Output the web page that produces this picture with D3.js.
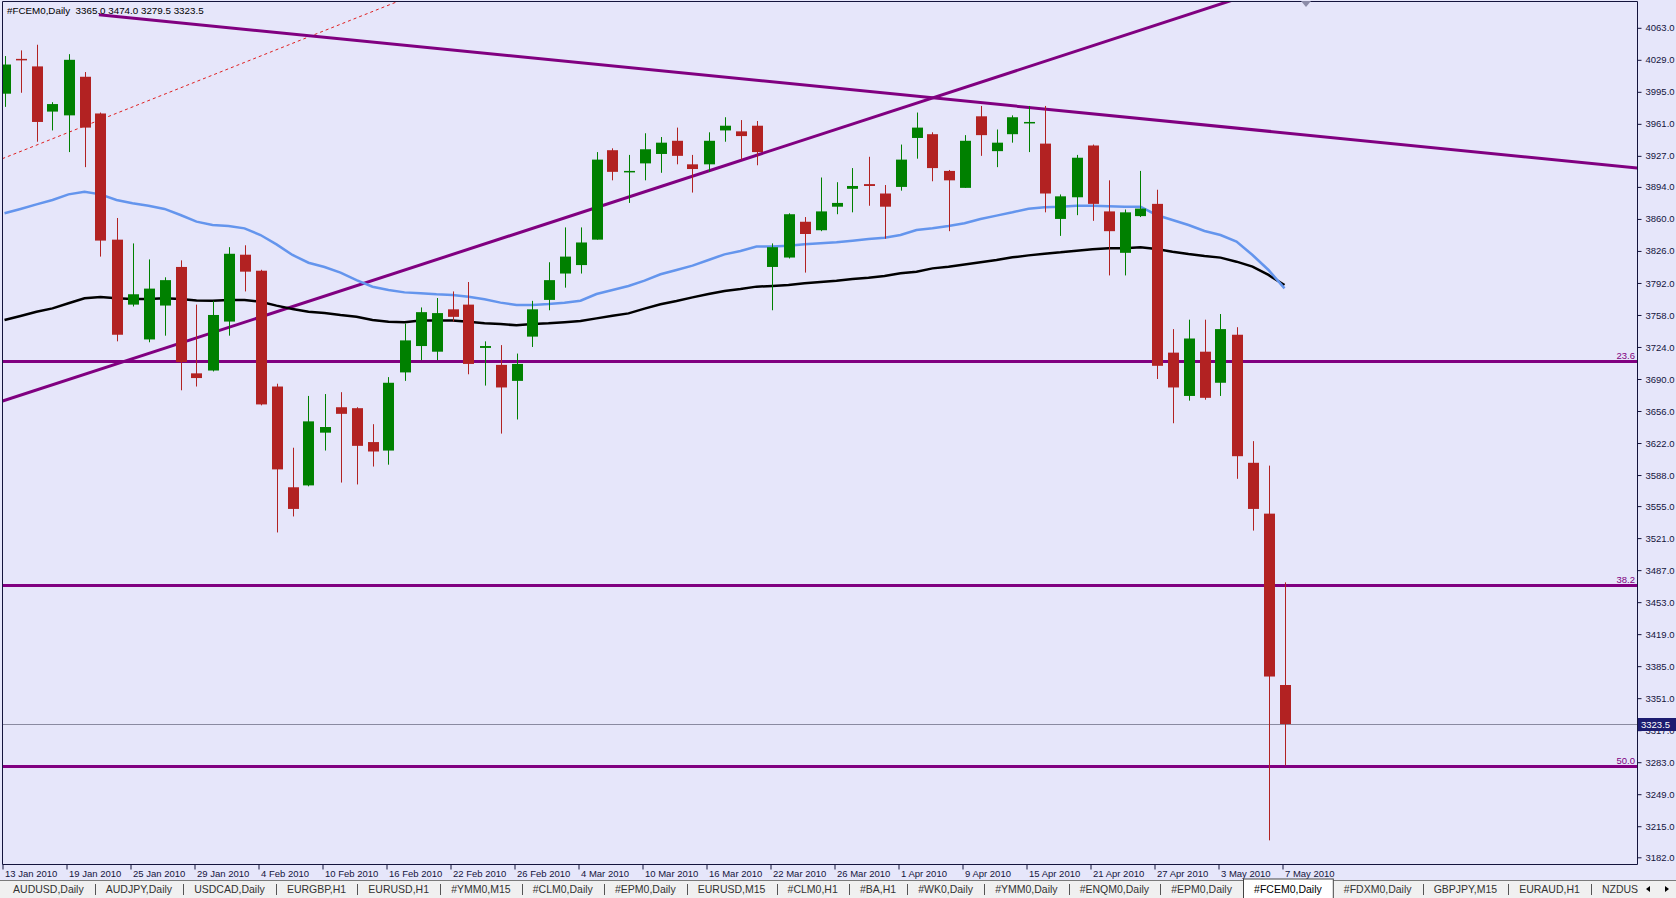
<!DOCTYPE html>
<html><head><meta charset="utf-8">
<script src="https://cdn.jsdelivr.net/npm/d3@7"></script>
<style>
html,body{margin:0;padding:0;background:#E6E6FA;overflow:hidden}
svg{display:block}
text{font-family:'Liberation Sans',Arial,sans-serif}
</style></head><body>
<svg id="c" width="1676" height="898"></svg>
<script>
// ---------- DATA ----------
const dates = [
"13 Jan 2010","14 Jan 2010","15 Jan 2010","18 Jan 2010","19 Jan 2010","20 Jan 2010","21 Jan 2010","22 Jan 2010","25 Jan 2010","26 Jan 2010",
"27 Jan 2010","28 Jan 2010","29 Jan 2010","1 Feb 2010","2 Feb 2010","3 Feb 2010","4 Feb 2010","5 Feb 2010","8 Feb 2010","9 Feb 2010",
"10 Feb 2010","11 Feb 2010","12 Feb 2010","15 Feb 2010","16 Feb 2010","17 Feb 2010","18 Feb 2010","19 Feb 2010","22 Feb 2010","23 Feb 2010",
"24 Feb 2010","25 Feb 2010","26 Feb 2010","1 Mar 2010","2 Mar 2010","3 Mar 2010","4 Mar 2010","5 Mar 2010","8 Mar 2010","9 Mar 2010",
"10 Mar 2010","11 Mar 2010","12 Mar 2010","15 Mar 2010","16 Mar 2010","17 Mar 2010","18 Mar 2010","19 Mar 2010","22 Mar 2010","23 Mar 2010",
"24 Mar 2010","25 Mar 2010","26 Mar 2010","29 Mar 2010","30 Mar 2010","31 Mar 2010","1 Apr 2010","6 Apr 2010","7 Apr 2010","8 Apr 2010",
"9 Apr 2010","12 Apr 2010","13 Apr 2010","14 Apr 2010","15 Apr 2010","16 Apr 2010","19 Apr 2010","20 Apr 2010","21 Apr 2010","22 Apr 2010",
"23 Apr 2010","26 Apr 2010","27 Apr 2010","28 Apr 2010","29 Apr 2010","30 Apr 2010","3 May 2010","4 May 2010","5 May 2010","6 May 2010",
"7 May 2010"];
const open = [3993,4030,4022,3974,3970,4011,3972,3838,3769,3732, 3768,3809,3696,3699,3751,3822,3805,3682,3575,3577,
 3633,3660,3659,3623,3614,3697,3725,3719,3764,3769, 3723,3705,3688,3735,3774,3802,3811,3838,3933,3910,
 3919,3929,3943,3918,3918,3954,3953,3959,3809,3819, 3857,3848,3873,3892,3897,3887,3894,3946,3950,3911,
 3893,3969,3932,3950,3962,3940,3860,3883,3938,3868, 3824,3863,3876,3718,3672,3719,3686,3737,3601,3547, 3365];
const high = [4033,4039,4045,3984,4035,4016,3973,3861,3834,3817, 3798,3816,3769,3773,3830,3832,3806,3685,3617,3672,
 3674,3676,3660,3642,3692,3749,3766,3776,3783,3793, 3730,3726,3717,3773,3814,3851,3851,3931,3935,3928,
 3951,3947,3957,3928,3952,3968,3965,3964,3834,3866, 3862,3904,3899,3914,3926,3896,3939,3973,3952,3912,
 3949,3980,3955,3970,3980,3980,3886,3928,3939,3901, 3870,3911,3891,3743,3753,3753,3759,3745,3624,3598, 3474];
const low = [3979,3994,3942,3954,3931,3915,3820,3730,3767,3729, 3736,3678,3682,3698,3736,3783,3662,3527,3544,3576,
 3614,3580,3578,3597,3599,3688,3710,3710,3751,3695, 3683,3632,3647,3724,3763,3787,3802,3838,3901,3877,
 3901,3909,3918,3888,3910,3942,3923,3917,3763,3818, 3803,3847,3865,3867,3874,3839,3890,3924,3900,3847,
 3893,3927,3915,3941,3931,3867,3842,3864,3858,3800, 3800,3862,3690,3643,3667,3668,3672,3584,3529,3200, 3279.5];
const close = [4024,4029,3963,3982,4029,3957,3837,3737,3780,3786, 3795,3708,3691,3758,3823,3804,3663,3594,3552,3645,
 3639,3653,3619,3613,3686,3731,3761,3760,3756,3706, 3725,3681,3706,3764,3795,3820,3835,3923,3910,3911,
 3934,3941,3927,3913,3943,3959,3948,3931,3830,3865, 3844,3868,3877,3895,3895,3873,3923,3957,3914,3901,
 3943,3949,3941,3968,3963,3887,3884,3925,3876,3847, 3867,3871,3704,3681,3733,3670,3743,3608,3552,3374, 3323.5];
const maFast = [3866,3870.6,3875.5,3880.1,3886.1,3888.9,3886.1,3880.1,3876.6,3874.1,
 3870.6,3864.2,3857.1,3853.6,3852.5,3850,3842.9,3833,3821.7,3813.5,
 3809,3803,3795.1,3788,3784.5,3782,3781,3779.9,3779.2,3777.4,
 3774.6,3771.1,3768.6,3768.6,3769.6,3771.1,3773.2,3780.3,3784.5,3788.8,
 3794.5,3801.2,3805.8,3810.4,3816.4,3822.4,3826,3830.6,3830.6,3831.6,
 3833,3834.1,3835.2,3836.9,3838.7,3840.1,3842.9,3848.2,3850,3852.5,
 3855.5,3860,3863.5,3867,3870.9,3872.3,3873,3874.1,3874.1,3873.4,
 3873,3873,3864.2,3858.9,3853.5,3847.2,3842.9,3835.9,3821.7,3805.8,3786.3];
const maSlow = [3752.6,3756.9,3761.5,3765,3770.4,3775.7,3777.1,3775.7,3775,3775,
 3775.7,3775,3773.5,3773.2,3773.9,3773.9,3772.1,3767.9,3764.3,3761.5,
 3760,3757.9,3756.2,3752.7,3750.9,3750.2,3752,3752,3752,3750.9,
 3749.1,3748.4,3747,3748.4,3749.1,3750.2,3751.6,3754.4,3757.2,3759.7,
 3764.7,3769.3,3772.8,3776.7,3780.3,3783.5,3785.6,3788.1,3788.8,3789.8,
 3791.6,3793,3794.4,3796.2,3797.6,3799.4,3802.2,3804,3807.5,3809.3,
 3811.5,3814,3816.4,3819.2,3821.3,3823.1,3824.5,3826.3,3827.7,3828.8,
 3828.8,3829.8,3828.1,3825.2,3822.7,3820.6,3818.9,3814.6,3809.3,3800.5,3789.8];
const yTicks = [4063,4029,3995,3961,3927,3894,3860,3826,3792,3758,3724,3690,3656,3622,3588,3555,3521,3487,3453,3419,3385,3351,3317,3283,3249,3215,3182];
const fibLevels = ["23.6","38.2","50.0"];
const fibPrices = [3708.6,3471,3279];
const trendDown = [[6,4076.6],[80,3951.4]];
const trendUp = [[0,3667.2],[60,3999.6]];
const trendDotted = [[0,3924.9],[18,4046.5]];
const askPrice = 3323.5;
const title = "#FCEM0,Daily  3365.0 3474.0 3279.5 3323.5";
const tabs = ["AUDUSD,Daily","AUDJPY,Daily","USDCAD,Daily","EURGBP,H1","EURUSD,H1","#YMM0,M15","#CLM0,Daily","#EPM0,Daily","EURUSD,M15","#CLM0,H1","#BA,H1","#WK0,Daily","#YMM0,Daily","#ENQM0,Daily","#EPM0,Daily","#FCEM0,Daily","#FDXM0,Daily","GBPJPY,M15","EURAUD,H1","NZDUSD"];
const activeTab = 15;

// ---------- LAYOUT ----------
const W = 1676, H = 898;
const PL = 3, PR = 1637, PT = 2, PB = 864;
const svg = d3.select("#c");
const fg = "#14143c";
const cUp = "#008000", cDn = "#B22222", purple = "#800080";

const x = d3.scaleLinear().domain([0, 80]).range([4.5, 1284.5]);
const y = d3.scaleLinear().domain([3182, 4063]).range([857.3, 27.8]);

svg.append("rect").attr("width", W).attr("height", H).attr("fill", "#E6E6FA");

svg.append("defs").append("clipPath").attr("id", "plot")
  .append("rect").attr("x", PL).attr("y", PT).attr("width", PR - PL).attr("height", PB - PT);

const plot = svg.append("g").attr("clip-path", "url(#plot)");

// fib lines
fibPrices.forEach((p, k) => {
  const yy = Math.round(y(p)) + 0.5;
  plot.append("line").attr("x1", PL).attr("x2", PR).attr("y1", yy).attr("y2", yy)
    .attr("stroke", purple).attr("stroke-width", 3);
  svg.append("text").attr("x", PR - 2).attr("y", yy - 3).attr("text-anchor", "end")
    .attr("font-size", 9.5).attr("fill", purple).text(fibLevels[k]);
});

// trend lines
function trend(pts, b0, b1, attrs) {
  const slope = (pts[1][1] - pts[0][1]) / (pts[1][0] - pts[0][0]);
  const f = b => pts[0][1] + (b - pts[0][0]) * slope;
  const l = plot.append("line")
    .attr("x1", x(b0)).attr("y1", y(f(b0)))
    .attr("x2", x(b1)).attr("y2", y(f(b1)));
  Object.entries(attrs).forEach(([k, v]) => l.attr(k, v));
}
const bLeft = x.invert(-20), bRight = x.invert(PR + 20);
trend(trendDotted, bLeft, bRight, {stroke: "#e02020", "stroke-width": 1, "stroke-dasharray": "3,3"});
trend(trendUp, bLeft, bRight, {stroke: purple, "stroke-width": 3});
trend(trendDown, trendDown[0][0] - 0.1, bRight, {stroke: purple, "stroke-width": 3});

// moving averages
const lineGen = d3.line().x((d, i) => x(i)).y(d => y(d));
plot.append("path").datum(maSlow).attr("d", lineGen).attr("fill", "none")
  .attr("stroke", "#000000").attr("stroke-width", 2.5);
plot.append("path").datum(maFast).attr("d", lineGen).attr("fill", "none")
  .attr("stroke", "#6495ED").attr("stroke-width", 2.5);

// ask line
const ya = Math.round(y(askPrice)) + 0.5;
plot.append("line").attr("x1", PL).attr("x2", PR).attr("y1", ya).attr("y2", ya)
  .attr("stroke", "#8a8aa0").attr("stroke-width", 1);

// candles
const candles = plot.append("g");
dates.forEach((d, i) => {
  const cx = Math.round(x(i)) + 0.5;
  const col = close[i] >= open[i] ? cUp : cDn;
  candles.append("line").attr("x1", cx).attr("x2", cx)
    .attr("y1", y(high[i])).attr("y2", y(low[i])).attr("stroke", col).attr("stroke-width", 1);
  const yt = y(Math.max(open[i], close[i])), yb = y(Math.min(open[i], close[i]));
  candles.append("rect").attr("x", cx - 5.5).attr("width", 11)
    .attr("y", yt).attr("height", Math.max(1.5, yb - yt)).attr("fill", col);
});

// frame
svg.append("path").attr("d", `M${PL - 0.5},${PB + 0.5}V${PT - 0.5}H${PR + 0.5}V${PB + 0.5}H${PL - 0.5}`)
  .attr("fill", "none").attr("stroke", fg).attr("stroke-width", 1);

// y axis
const gy = svg.append("g").attr("transform", `translate(${PR + 0.5},0)`)
  .call(d3.axisRight(y).tickValues(yTicks).tickSize(4).tickPadding(4).tickFormat(d => d.toFixed(1)));
gy.select(".domain").remove();
gy.selectAll("line").attr("stroke", fg);
gy.selectAll("text").attr("fill", fg).attr("font-size", 9.5).attr("font-family", "'Liberation Sans',Arial,sans-serif");

// ask box (covers the tick label beneath it, as in the terminal)
svg.append("rect").attr("x", PR + 1).attr("y", ya - 6.5).attr("width", W - PR - 1).attr("height", 13).attr("fill", "#1c1c70");
svg.append("text").attr("x", PR + 4).attr("y", ya + 3.5).attr("fill", "#ffffff").attr("font-size", 9.5).text(askPrice.toFixed(1));

// x axis
const gx = svg.append("g").attr("transform", `translate(-2,${PB + 0.5})`)
  .call(d3.axisBottom(x).tickValues(d3.range(0, dates.length, 4)).tickSize(5).tickPadding(1).tickFormat(i => dates[i]));
gx.select(".domain").remove();
gx.selectAll("line").attr("stroke", fg);
gx.selectAll("text").attr("text-anchor", "start").attr("x", 2).attr("fill", fg)
  .attr("font-size", 9.5).attr("font-family", "'Liberation Sans',Arial,sans-serif");

// title
svg.append("text").attr("x", 7).attr("y", 14).attr("font-size", 9.8).attr("fill", "#000")
  .style("white-space", "pre").text(title);

// chart shift marker
svg.append("polygon").attr("points", "1301,1 1311,1 1306,7").attr("fill", "#8c8ca8");

// ---------- TABS ----------
const TB = 880;
svg.append("rect").attr("x", 0).attr("y", TB).attr("width", W).attr("height", H - TB).attr("fill", "#F0F0F0");
svg.append("line").attr("x1", 0).attr("x2", W).attr("y1", TB + 0.5).attr("y2", TB + 0.5).attr("stroke", "#7a7a7a");
const tg = svg.append("g");
const tt = tabs.map(t => tg.append("text").attr("font-size", 10.5).attr("fill", "#333").attr("y", TB + 13).text(t));
const widths = tt.map(t => t.node().getComputedTextLength());
const sum15 = d3.sum(widths.slice(0, activeTab));
const pad = (1243 - 2 - sum15) / (2 * activeTab);
let cx0 = 2;
tt.forEach((t, k) => {
  const w = widths[k] + 2 * pad;
  if (k === activeTab) {
    tg.insert("rect", "text").attr("x", cx0 + 0.5).attr("y", TB - 1).attr("width", w).attr("height", H - TB + 2)
      .attr("fill", "#ffffff").attr("stroke", "#444").attr("stroke-width", 1);
    t.attr("fill", "#000");
  }
  t.attr("x", cx0 + pad);
  const sx = Math.round(cx0 + w) + 0.5;
  if (k !== activeTab && k !== activeTab - 1 && k < tabs.length - 1) {
    tg.append("line").attr("x1", sx).attr("x2", sx).attr("y1", TB + 4).attr("y2", TB + 15).attr("stroke", "#555");
  }
  cx0 += w;
});
// scroll arrows
svg.append("rect").attr("x", 1638).attr("y", TB + 1).attr("width", W - 1638).attr("height", H - TB).attr("fill", "#F0F0F0");
svg.append("polygon").attr("points", `1646,${TB + 9} 1650,${TB + 6} 1650,${TB + 12}`).attr("fill", "#000");
svg.append("polygon").attr("points", `1669,${TB + 9} 1665,${TB + 6} 1665,${TB + 12}`).attr("fill", "#000");
</script>
</body></html>
